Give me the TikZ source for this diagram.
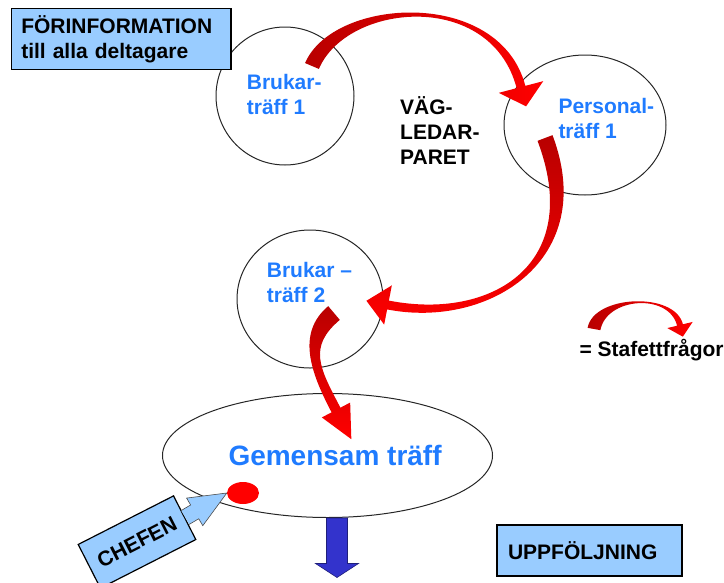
\documentclass[tikz,border=0pt]{standalone}
\usepackage{fontspec}
\setmainfont{Liberation Sans}
\usetikzlibrary{calc,shapes.geometric}
\definecolor{infoblue}{HTML}{99CCFF}
\definecolor{textblue}{HTML}{1F7BFF}
\definecolor{stafred}{HTML}{FF0000}
\definecolor{stafdark}{HTML}{B80000}
\definecolor{downblue}{HTML}{3333CC}
% tapered curved arrow: #1 shading, #2 tail, #3/#4 controls, #5 neck,
% #6 tail half width, #7 neck half width, #8 head half width, #9 head length
\newcommand{\stafett}[9]{%
  \path (#2) coordinate (s) (#3) coordinate (c1) (#4) coordinate (c2) (#5) coordinate (e);
  \path ($(s)!#6!90:(c1)$) coordinate (sl) ($(s)!#6!-90:(c1)$) coordinate (sr)
        ($(e)!#7!-90:(c2)$) coordinate (el) ($(e)!#7!90:(c2)$) coordinate (er)
        ($(e)!#8!-90:(c2)$) coordinate (hl) ($(e)!#8!90:(c2)$) coordinate (hr)
        ($(e)!-#9!(c2)$) coordinate (tip);
  \shade[#1] (sl) .. controls ($(c1)+(sl)-(s)$) and ($(c2)+(el)-(e)$) .. (el)
    -- (hl) -- (tip) -- (hr) -- (er)
    .. controls ($(c2)+(er)-(e)$) and ($(c1)+(sr)-(s)$) .. (sr) -- cycle;
}

\begin{document}
\begin{tikzpicture}[x=1pt,y=-1pt,
  font=\bfseries\fontsize{21}{25}\selectfont,
  ring/.style={ellipse,draw=black!85,line width=1pt,inner sep=0pt},
  infobox/.style={rectangle,draw=black,line width=1.2pt,fill=infoblue,align=left},
  blu/.style={text=textblue,align=left,inner sep=0pt},
  swoosh/.style={left color=stafdark,right color=stafred},
  swooshdown/.style={top color=stafdark,bottom color=stafred}]
  \useasboundingbox (0,0) rectangle (724,582);

  % the meetings
  \node[ring,minimum width=138pt,minimum height=138pt] (b1)  at (285,96)      {};
  \node[ring,minimum width=162pt,minimum height=140pt] (p1)  at (585,125)     {};
  \node[ring,minimum width=146pt,minimum height=138pt] (b2)  at (310,299)     {};
  \node[ring,minimum width=330pt,minimum height=124pt] (gem) at (327.5,455.5) {};

  \node[blu,anchor=north west] (b1txt) at (246.7,74)    {Brukar-\\träff 1};
  \node[blu,anchor=north west] (p1txt) at (558.3,98)    {Personal-\\träff 1};
  \node[blu,anchor=north west] (b2txt) at (266.7,261.7) {Brukar –\\träff 2};
  \node[anchor=north west,align=left,inner sep=0pt] (vag) at (400,96) {VÄG-\\LEDAR-\\PARET};
  \node[text=textblue,anchor=base west,inner sep=0pt,font=\bfseries\fontsize{28}{32}\selectfont]
    (gemtxt) at (228.3,465) {Gemensam träff};

  \node[infobox,anchor=north west,text width=200pt,inner xsep=9.7pt,inner ysep=6.3pt,minimum height=61pt]
    (info) at (11,8) {FÖRINFORMATION\\till alla deltagare};
  \node[infobox,minimum width=185pt,minimum height=51pt,text width=163pt,inner xsep=11pt]
    (uppf) at (589.5,550.5) {UPPFÖLJNING};

  % relay questions
  \stafett{swoosh}{312,66}{340,0}{495,-12}{521,87}{7.5pt}{4.5pt}{23pt}{20pt}
  \stafett{swooshdown}{545,138}{592,262}{490,325}{388,305}{8pt}{4.5pt}{20pt}{22pt}
  \stafett{swooshdown}{334,313}{302,340}{315,370}{336,410}{9pt}{5pt}{16pt}{33pt}
  \stafett{swoosh}{594,329}{600,296}{672,292}{680,325}{6.5pt}{3pt}{13pt}{12pt}
  \node[anchor=base west,inner sep=0pt] (legtxt) at (579.3,356) {= Stafettfrågor};

  % the manager joins
  \node[ellipse,fill=stafred,minimum width=32pt,minimum height=22pt,inner sep=0pt] (dot) at (243,493) {};
  \node[infobox,rotate=27,minimum width=107pt,minimum height=49pt,align=center,inner sep=0pt]
    (chef) at (137,542) {CHEFEN};
  \coordinate (hb) at ($(chef.east)!11pt!(dot.west)$);
  \filldraw[fill=infoblue,draw=black!70,line width=0.6pt]
    ($(chef.east)!8pt!90:(dot.west)$) -- ($(hb)!8pt!90:(dot.west)$) -- ($(hb)!16pt!90:(dot.west)$)
    -- (dot.west) -- ($(hb)!16pt!-90:(dot.west)$) -- ($(hb)!8pt!-90:(dot.west)$)
    -- ($(chef.east)!8pt!-90:(dot.west)$);

  % on to follow-up
  \coordinate (dn) at ($(gem.south)+(9.5,0)$);
  \filldraw[fill=downblue,draw=downblue!60!black,line width=0.6pt]
    (dn) ++(-10.5,0) -- ++(0,45.5) -- ++(-11,0) -- ++(21.5,14) -- ++(21.5,-14)
    -- ++(-11,0) -- ++(0,-45.5) -- cycle;
\end{tikzpicture}
\end{document}
